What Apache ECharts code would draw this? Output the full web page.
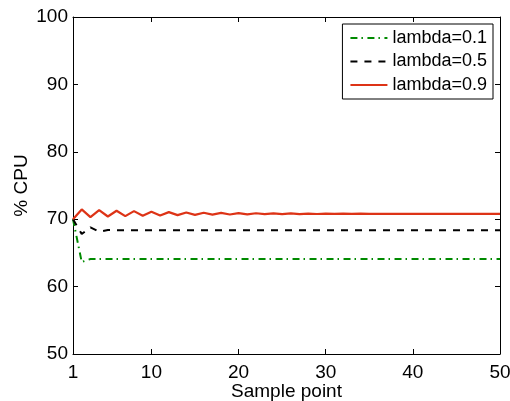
<!DOCTYPE html>
<html>
<head>
<meta charset="utf-8">
<script src="https://cdn.jsdelivr.net/npm/echarts@6/dist/echarts.min.js"></script>
<style>
  html, body { margin: 0; padding: 0; background: #fff; }
  #chart { width: 510px; height: 401px; }
</style>
</head>
<body>
<div id="chart"></div>
<script>
// Sample indices along the x axis
const samplePoints = [
  1, 2, 3, 4, 5, 6, 7, 8, 9, 10,
  11, 12, 13, 14, 15, 16, 17, 18, 19, 20,
  21, 22, 23, 24, 25, 26, 27, 28, 29, 30,
  31, 32, 33, 34, 35, 36, 37, 38, 39, 40,
  41, 42, 43, 44, 45, 46, 47, 48, 49, 50
];

// % CPU for each smoothing factor
const cpuLambda01 = [
  70.0, 63.65, 64.1, 64.1, 64.1, 64.1, 64.1, 64.1, 64.1, 64.1,
  64.1, 64.1, 64.1, 64.1, 64.1, 64.1, 64.1, 64.1, 64.1, 64.1,
  64.1, 64.1, 64.1, 64.1, 64.1, 64.1, 64.1, 64.1, 64.1, 64.1,
  64.1, 64.1, 64.1, 64.1, 64.1, 64.1, 64.1, 64.1, 64.1, 64.1,
  64.1, 64.1, 64.1, 64.1, 64.1, 64.1, 64.1, 64.1, 64.1, 64.1
];
const cpuLambda05 = [
  70.0, 67.8, 68.8, 68.15, 68.4, 68.35, 68.35, 68.35, 68.35, 68.35,
  68.35, 68.35, 68.35, 68.35, 68.35, 68.35, 68.35, 68.35, 68.35, 68.35,
  68.35, 68.35, 68.35, 68.35, 68.35, 68.35, 68.35, 68.35, 68.35, 68.35,
  68.35, 68.35, 68.35, 68.35, 68.35, 68.35, 68.35, 68.35, 68.35, 68.35,
  68.35, 68.35, 68.35, 68.35, 68.35, 68.35, 68.35, 68.35, 68.35, 68.35
];
const cpuLambda09 = [
  70.0, 71.45, 70.3, 71.35, 70.4, 71.25, 70.45, 71.2, 70.5, 71.12,
  70.55, 71.05, 70.6, 71.0, 70.65, 70.96, 70.68, 70.93, 70.7, 70.9,
  70.72, 70.88, 70.74, 70.86, 70.75, 70.85, 70.76, 70.84, 70.77, 70.83,
  70.78, 70.82, 70.78, 70.82, 70.79, 70.81, 70.79, 70.81, 70.8, 70.8,
  70.8, 70.8, 70.8, 70.8, 70.8, 70.8, 70.8, 70.8, 70.8, 70.8
];

const seriesNames = ['lambda=0.1', 'lambda=0.5', 'lambda=0.9'];
const xTicks = [1, 10, 20, 30, 40, 50];
const yTicks = [50, 60, 70, 80, 90, 100];

const pairs = (ys) => samplePoints.map((x, i) => [x, ys[i]]);

const FONT = 'Liberation Sans, Arial, Helvetica, sans-serif';
const axisCommon = {
  axisLine: { show: true, lineStyle: { color: '#000', width: 1 } },
  axisTick: { show: true, inside: true, length: 5, lineStyle: { color: '#000', width: 1 } },
  splitLine: { show: false }
};

const chart = echarts.init(document.getElementById('chart'), null, { renderer: 'canvas' });

chart.setOption({
  animation: false,
  backgroundColor: '#fff',
  grid: { left: 73, right: 10, top: 17, bottom: 47, containLabel: false, outerBoundsMode: 'none' },
  legend: {
    orient: 'vertical',
    right: 17,
    top: 24,
    padding: [5, 6, 5, 7],
    itemGap: 5.5,
    itemWidth: 37,
    itemHeight: 14,
    borderColor: '#000',
    borderWidth: 1,
    borderRadius: 0,
    backgroundColor: '#fff',
    itemStyle: { opacity: 0 },
    textStyle: { fontFamily: FONT, fontSize: 18, color: '#000', lineHeight: 18 },
    data: seriesNames
  },
  xAxis: [
    Object.assign({}, axisCommon, {
      type: 'value', position: 'bottom', min: 1, max: 50,
      name: 'Sample point', nameLocation: 'middle', nameGap: 28, nameMoveOverlap: false,
      nameTextStyle: { fontFamily: FONT, fontSize: 19, color: '#000' },
      axisTick: Object.assign({}, axisCommon.axisTick, { customValues: xTicks }),
      axisLabel: { customValues: xTicks, margin: 9, fontFamily: FONT, fontSize: 19, color: '#000' }
    }),
    Object.assign({}, axisCommon, {
      type: 'value', position: 'top', min: 1, max: 50,
      axisTick: Object.assign({}, axisCommon.axisTick, { customValues: xTicks }),
      axisLabel: { show: false }
    })
  ],
  yAxis: [
    Object.assign({}, axisCommon, {
      type: 'value', position: 'left', min: 50, max: 100, interval: 10,
      name: '% CPU', nameLocation: 'middle', nameGap: 42, nameMoveOverlap: false,
      nameTextStyle: { fontFamily: FONT, fontSize: 19, color: '#000' },
      axisLabel: { margin: 5, fontFamily: FONT, fontSize: 19, color: '#000',
        customValues: yTicks }
    }),
    Object.assign({}, axisCommon, {
      type: 'value', position: 'right', min: 50, max: 100, interval: 10,
      axisLabel: { show: false }
    })
  ],
  series: [
    {
      name: seriesNames[0], type: 'line', data: pairs(cpuLambda01),
      xAxisIndex: 0, yAxisIndex: 0, symbol: 'none',
      lineStyle: { color: '#008a00', width: 2, type: [7, 4, 1.5, 4.5] },
      itemStyle: { color: '#008a00' }
    },
    {
      name: seriesNames[1], type: 'line', data: pairs(cpuLambda05),
      xAxisIndex: 0, yAxisIndex: 0, symbol: 'none',
      lineStyle: { color: '#000', width: 2, type: [7, 7] },
      itemStyle: { color: '#000' }
    },
    {
      name: seriesNames[2], type: 'line', data: pairs(cpuLambda09),
      xAxisIndex: 0, yAxisIndex: 0, symbol: 'none',
      lineStyle: { color: '#dd3316', width: 2.2, type: 'solid' },
      itemStyle: { color: '#dd3316' }
    }
  ]
});
</script>
</body>
</html>
